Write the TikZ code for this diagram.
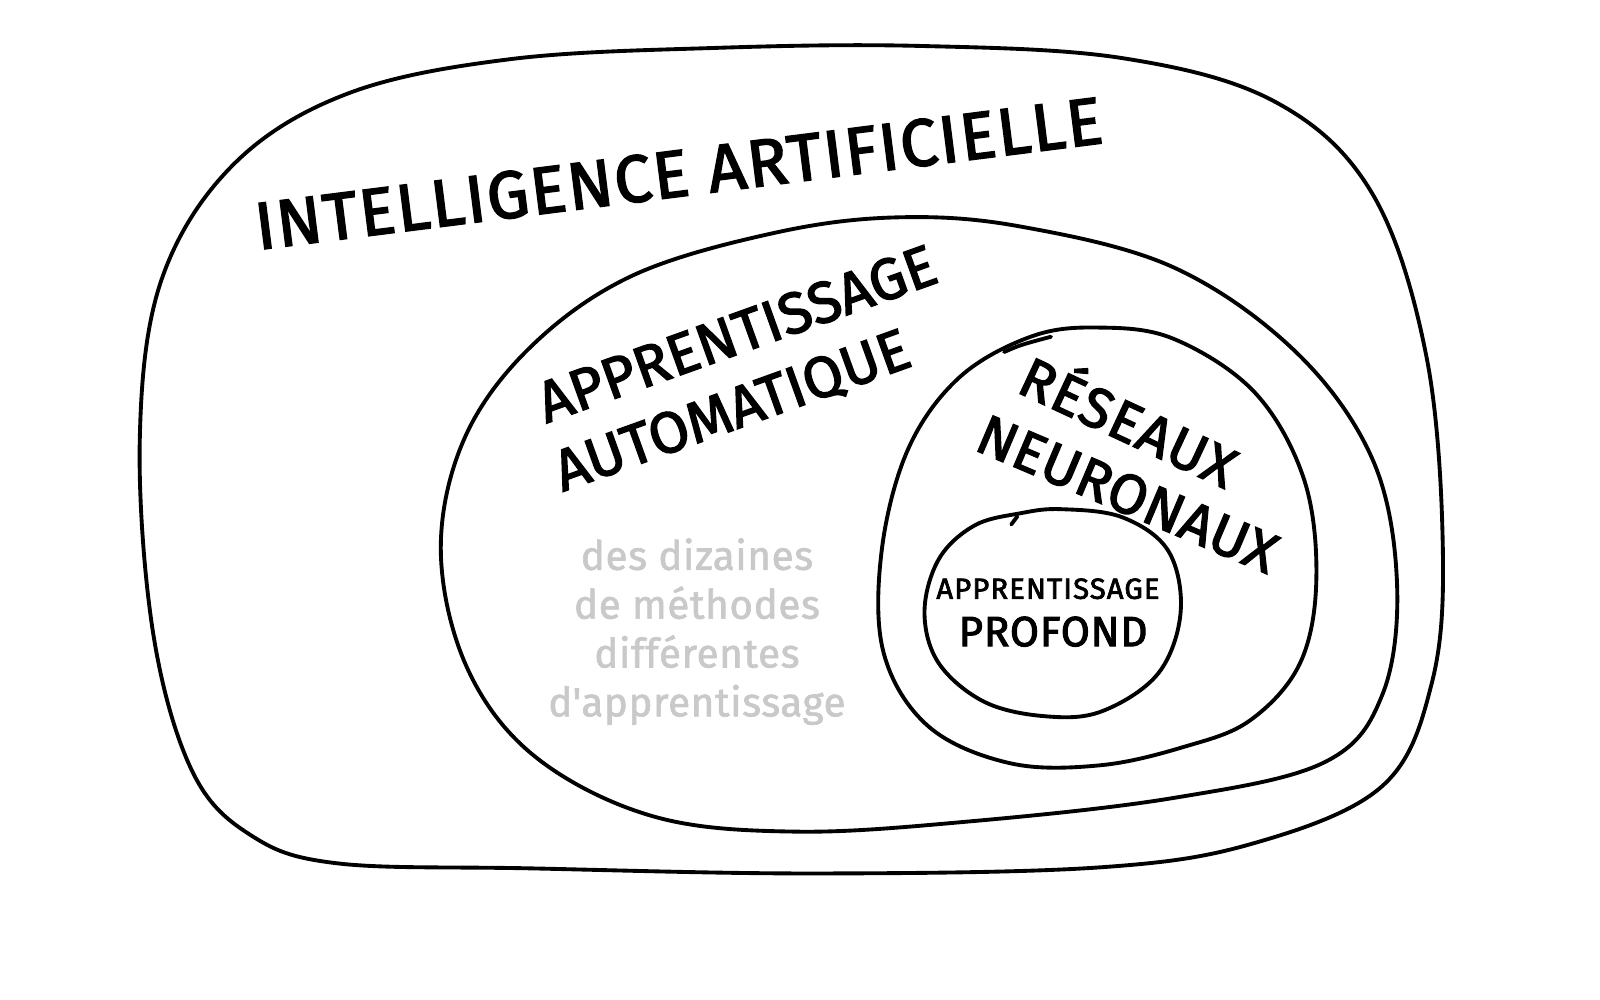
\documentclass[tikz,border=0pt]{standalone}
\usepackage{fontspec}
\setmainfont{Fira Sans}
\newfontfamily\handfont{Fira Sans}[FakeBold=2.4]
\newfontfamily\greyfont{Fira Sans}[FakeBold=1.6]
\newcommand\lsp[1]{\addfontfeatures{LetterSpace=#1}}
\begin{document}
\begin{tikzpicture}[x=0.010204cm,y=-0.010204cm,
  blob/.style={line width=1.1pt, line join=round, line cap=round},
  lbl/.style={inner sep=0pt, anchor=center},
  grey/.style={font=\fontsize{11.5}{13.9}\selectfont\greyfont\lsp{1.5}, text=black!21, align=center, inner sep=0pt}]
\useasboundingbox (0,0) rectangle (1568,980);
% outer blob
\draw[blob] plot[smooth cycle, tension=0.6] coordinates {(137,430) (158,275) (228,162) (340,92) (500,58) (700,47) (900,45) (1100,57) (1250,100) (1345,190) (1398,350) (1414,540) (1403,670) (1355,770) (1230,826) (1078,850) (800,856) (520,851) (330,846) (245,818) (188,755) (150,620)};
% ML blob
\draw[blob] plot[smooth cycle, tension=0.6] coordinates {(432,540) (455,430) (520,340) (620,270) (760,228) (880,213) (1000,222) (1150,262) (1270,345) (1345,450) (1369,570) (1355,680) (1298,747) (1150,782) (950,805) (780,815) (640,800) (525,742) (458,655)};
% NN blob
\draw[blob] plot[smooth cycle, tension=0.6] coordinates {(1075,321) (1010,330) (940,370) (890,440) (864,540) (866,640) (910,712) (990,748) (1078,750) (1160,732) (1225,706) (1274,650) (1290,568) (1278,470) (1230,385) (1150,332)};
\draw[blob] (984,345) .. controls (1000,338) .. (1030,330);
% DL circle
\draw[blob] plot[smooth cycle, tension=0.6] coordinates {(1040,499) (1100,507) (1145,540) (1157,600) (1135,660) (1080,697) (1025,702) (965,688) (920,650) (906,600) (920,548) (955,515) (1000,503)};
\draw[blob] (991,514) -- (997,506);
% texts
\node[lbl, font=\fontsize{19}{19}\selectfont\handfont\lsp{2.5}, rotate=7.2] (ai) at (665,170) {INTELLIGENCE ARTIFICIELLE};
\node[lbl, font=\fontsize{16.5}{16.5}\selectfont\handfont\lsp{0.5}, rotate=19.8] (ml1) at (722,327) {APPRENTISSAGE};
\node[lbl, font=\fontsize{16.5}{16.5}\selectfont\handfont\lsp{0.5}, rotate=19.8] (ml2) at (718,404) {AUTOMATIQUE};
\node[lbl, font=\fontsize{16}{16}\selectfont\handfont\lsp{2.5}, rotate=-25] (nn1) at (1108,409) {RÉSEAUX};
\node[lbl, font=\fontsize{16}{16}\selectfont\handfont\lsp{1}, rotate=-23] (nn2) at (1105,484) {NEURONAUX};
\node[lbl, font=\fontsize{8.3}{8.3}\selectfont\handfont\lsp{4}] (dl1) at (1027,577) {APPRENTISSAGE};
\node[lbl, font=\fontsize{12}{12}\selectfont\handfont\lsp{2}] (dl2) at (1032,619) {PROFOND};
\node[grey] (g) at (683,619) {des dizaines\\de méthodes\\différentes\\d\textquotesingle apprentissage};
\end{tikzpicture}
\end{document}
